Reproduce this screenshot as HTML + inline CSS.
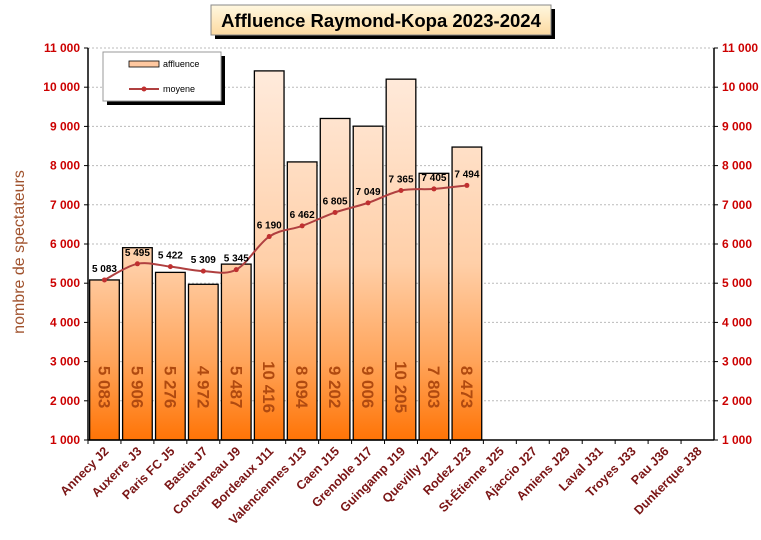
<!DOCTYPE html>
<html><head><meta charset="utf-8"><style>
body{margin:0;background:#fff;font-family:"Liberation Sans",sans-serif}
svg text{font-family:"Liberation Sans",sans-serif}
</style></head><body>
<svg id="c" width="761" height="535">
<defs>
<linearGradient id="bg" gradientUnits="userSpaceOnUse" x1="0" y1="48" x2="0" y2="440">
<stop offset="0" stop-color="#ffeee2"/><stop offset="0.55" stop-color="#ffcfa8"/><stop offset="0.8" stop-color="#ffa45a"/><stop offset="1" stop-color="#ff7406"/></linearGradient>
<linearGradient id="tg" x1="0" y1="0" x2="0" y2="1"><stop offset="0" stop-color="#fff8e0"/><stop offset="1" stop-color="#fcd9a0"/></linearGradient>
</defs>
<g>
<rect x="215" y="9" width="340" height="30" fill="#000"/>
<rect x="211" y="5" width="340" height="30" fill="url(#tg)" stroke="#888"/>
<text x="381" y="27" text-anchor="middle" font-size="18.5" font-weight="bold">Affluence Raymond-Kopa 2023-2024</text>
</g>
<text transform="translate(24,252) rotate(-90)" text-anchor="middle" font-size="16" fill="#a0522d">nombre de spectateurs</text>
<g id="grid"></g><g id="bars"></g><g id="line"></g><g id="axes"></g>
<g>
<rect x="107" y="56" width="118" height="49" fill="#000"/>
<rect x="103" y="52" width="118" height="49" fill="#fff" stroke="#999"/>
<rect x="129" y="61" width="30" height="6" fill="#ffc8a0" stroke="#000" stroke-width="0.8"/>
<text x="163" y="67" font-size="9">affluence</text>
<line x1="129" y1="89" x2="159" y2="89" stroke="#b04040" stroke-width="2"/>
<circle cx="144" cy="89" r="2.5" fill="#c03030"/>
<text x="163" y="92" font-size="9">moyene</text>
</g>
</svg>
<script>
const categories=["Annecy J2","Auxerre J3","Paris FC J5","Bastia J7","Concarneau J9","Bordeaux J11","Valenciennes J13","Caen J15","Grenoble J17","Guingamp J19","Quevilly J21","Rodez J23","St-Étienne J25","Ajaccio J27","Amiens J29","Laval J31","Troyes J33","Pau J36","Dunkerque J38"];
const affluence=[5083,5906,5276,4972,5487,10416,8094,9202,9006,10205,7803,8473];
const moyenne=[5083,5495,5422,5309,5345,6190,6462,6805,7049,7365,7405,7494];
const yTicks=[1000,2000,3000,4000,5000,6000,7000,8000,9000,10000,11000];
const X0=88,X1=714,Y0=440,Y1=48,YMIN=1000,YMAX=11000;
const slot=(X1-X0)/categories.length;
const y=v=>Y0-(v-YMIN)/(YMAX-YMIN)*(Y0-Y1);
const xc=i=>X0+slot*(i+0.5);
const fmt=v=>{const s=String(v);return s.length>3?s.slice(0,-3)+" "+s.slice(-3):s};
const NS="http://www.w3.org/2000/svg";
function mk(p,t,a){const e=document.createElementNS(NS,t);for(const k in a)e.setAttribute(k,a[k]);p.appendChild(e);return e}
const G=document.getElementById("grid"),B=document.getElementById("bars"),L=document.getElementById("line"),A=document.getElementById("axes");
yTicks.forEach(v=>{
 if(v>YMIN){const g=mk(G,"line",{x1:X0,x2:X1,y1:y(v),y2:y(v),stroke:"#bbb","stroke-dasharray":"2,2"});
 
 }
 const t1=mk(A,"text",{x:80,y:y(v)+4,"text-anchor":"end","font-size":"12","font-weight":"bold",fill:"#cc0000"});t1.textContent=fmt(v);
 
 
 const t2=mk(A,"text",{x:722,y:y(v)+4,"font-size":"12","font-weight":"bold",fill:"#cc0000"});t2.textContent=fmt(v);
 
 
 mk(A,"line",{x1:X0-4,x2:X0,y1:y(v),y2:y(v),stroke:"#000"});
 mk(A,"line",{x1:X1,x2:X1+4,y1:y(v),y2:y(v),stroke:"#000"});
});
affluence.forEach((v,i)=>{
 const w=slot*0.9,x=xc(i)-w/2;
 const r=mk(B,"rect",{x:x,y:y(v),width:w,height:Y0-y(v),fill:"url(#bg)",stroke:"#000","stroke-width":"1.3"});
 
 
 const t=mk(B,"text",{transform:`translate(${xc(i)-6},${y(2350)}) rotate(90)`,"text-anchor":"middle","font-size":"17","font-weight":"bold",fill:"#b04a10"});t.textContent=fmt(v);
 
 
});
let d="";const pts=moyenne.map((v,i)=>[xc(i),y(v)]);
pts.forEach((p,i)=>{if(i==0){d+=`M${p[0]},${p[1]}`;return;}
 const p0=pts[Math.max(i-2,0)],p1=pts[i-1],p3=pts[Math.min(i+1,pts.length-1)];
 d+=`C${p1[0]+(p[0]-p0[0])/6},${p1[1]+(p[1]-p0[1])/6} ${p[0]-(p3[0]-p1[0])/6},${p[1]-(p3[1]-p1[1])/6} ${p[0]},${p[1]}`;});
const pl=mk(L,"path",{d:d,fill:"none",stroke:"#b04040","stroke-width":"2"});


moyenne.forEach((v,i)=>{
 const c=mk(L,"circle",{cx:xc(i),cy:y(v),r:2.5,fill:"#c03030"});
 
 
 const t=mk(L,"text",{x:xc(i),y:y(v)-8,"text-anchor":"middle","font-size":"10","font-weight":"bold",fill:"#000"});t.textContent=fmt(v);
 
 
});
mk(A,"line",{x1:X0,x2:X0,y1:Y1,y2:Y0,stroke:"#000","stroke-width":"1.5"});
mk(A,"line",{x1:X1,x2:X1,y1:Y1,y2:Y0,stroke:"#000","stroke-width":"1.5"});
mk(A,"line",{x1:X0,x2:X1,y1:Y0,y2:Y0,stroke:"#000","stroke-width":"1.5"});
categories.forEach((c,i)=>{
 mk(A,"line",{x1:X0+slot*i,x2:X0+slot*i,y1:Y0,y2:Y0+4,stroke:"#000"});
 const t=mk(A,"text",{transform:`translate(${xc(i)+5},${Y0+12}) rotate(-45)`,"text-anchor":"end","font-size":"12.5","font-weight":"bold",fill:"#7a1515"});t.textContent=c;
 
 
});
</script>
</body></html>
